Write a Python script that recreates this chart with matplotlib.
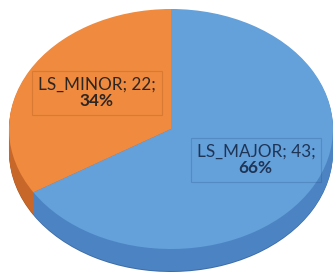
import numpy as np
import matplotlib.pyplot as plt

# data
labels = ['LS_MINOR', 'LS_MAJOR']
values = [22, 43]
top_colors = ['#ef8a3e', '#64a0da']
side_colors = ['#c8672a', '#4c84c3']

# pie geometry in pixels (figure is 336x280)
W, H = 336, 280
cx, cy = 171, 129      # centre of the top face
a, b = 162, 120        # half width / half height of the ellipse
depth = 22             # thickness of the side

plt.rcParams['font.family'] = ['Lato', 'DejaVu Sans']
plt.rcParams['mathtext.fontset'] = 'custom'
plt.rcParams['mathtext.bf'] = 'Lato:bold'

fig = plt.figure(figsize=(W / 100, H / 100), dpi=100)
ax = fig.add_axes([0, 0, 1, 1])

total = float(sum(values))
pct = [v / total * 100 for v in values]

# darker rim at the bottom
ax.pie(values, colors=['#a9541f', '#3d6ca6'], startangle=90,
       center=(0, -(depth + 1) / b), radius=1,
       wedgeprops=dict(linewidth=0, edgecolor='none'), frame=False)
# side of the 3d pie: stacked copies going down
for k in range(depth, 0, -1):
    ax.pie(values, colors=side_colors, startangle=90,
           center=(0, -k / b), radius=1,
           wedgeprops=dict(linewidth=0, edgecolor='none'))
# top face
ax.pie(values, colors=top_colors, startangle=90, counterclock=True,
       center=(0, 0), radius=1,
       wedgeprops=dict(linewidth=0, edgecolor='none'))

ax.set_aspect('auto')
ax.set_xlim((0 - cx) / a, (W - cx) / a)
ax.set_ylim((cy - H) / b, cy / b)
ax.axis('off')


def px(x, y):
    return (x - cx) / a, (cy - y) / b


# data labels
lab_pos = [(97, 93), (256, 160)]
box_edge = [(0.6, 0.3, 0.1, 0.25), (0.15, 0.3, 0.5, 0.25)]
txt_col = ['#2e2622', '#1f3556']
for i in range(len(values)):
    s = '%s; %d;\n$\\bf{%d\\%%}$' % (labels[i], values[i], round(pct[i]))
    x, y = px(*lab_pos[i])
    ax.text(x, y, s, ha='center', va='center', fontsize=12.3,
            color=txt_col[i], linespacing=1.0,
            bbox=dict(boxstyle='square,pad=0.35', facecolor='none',
                      edgecolor=box_edge[i], linewidth=0.8))

fig.savefig('out.png', dpi=100, facecolor='white')
